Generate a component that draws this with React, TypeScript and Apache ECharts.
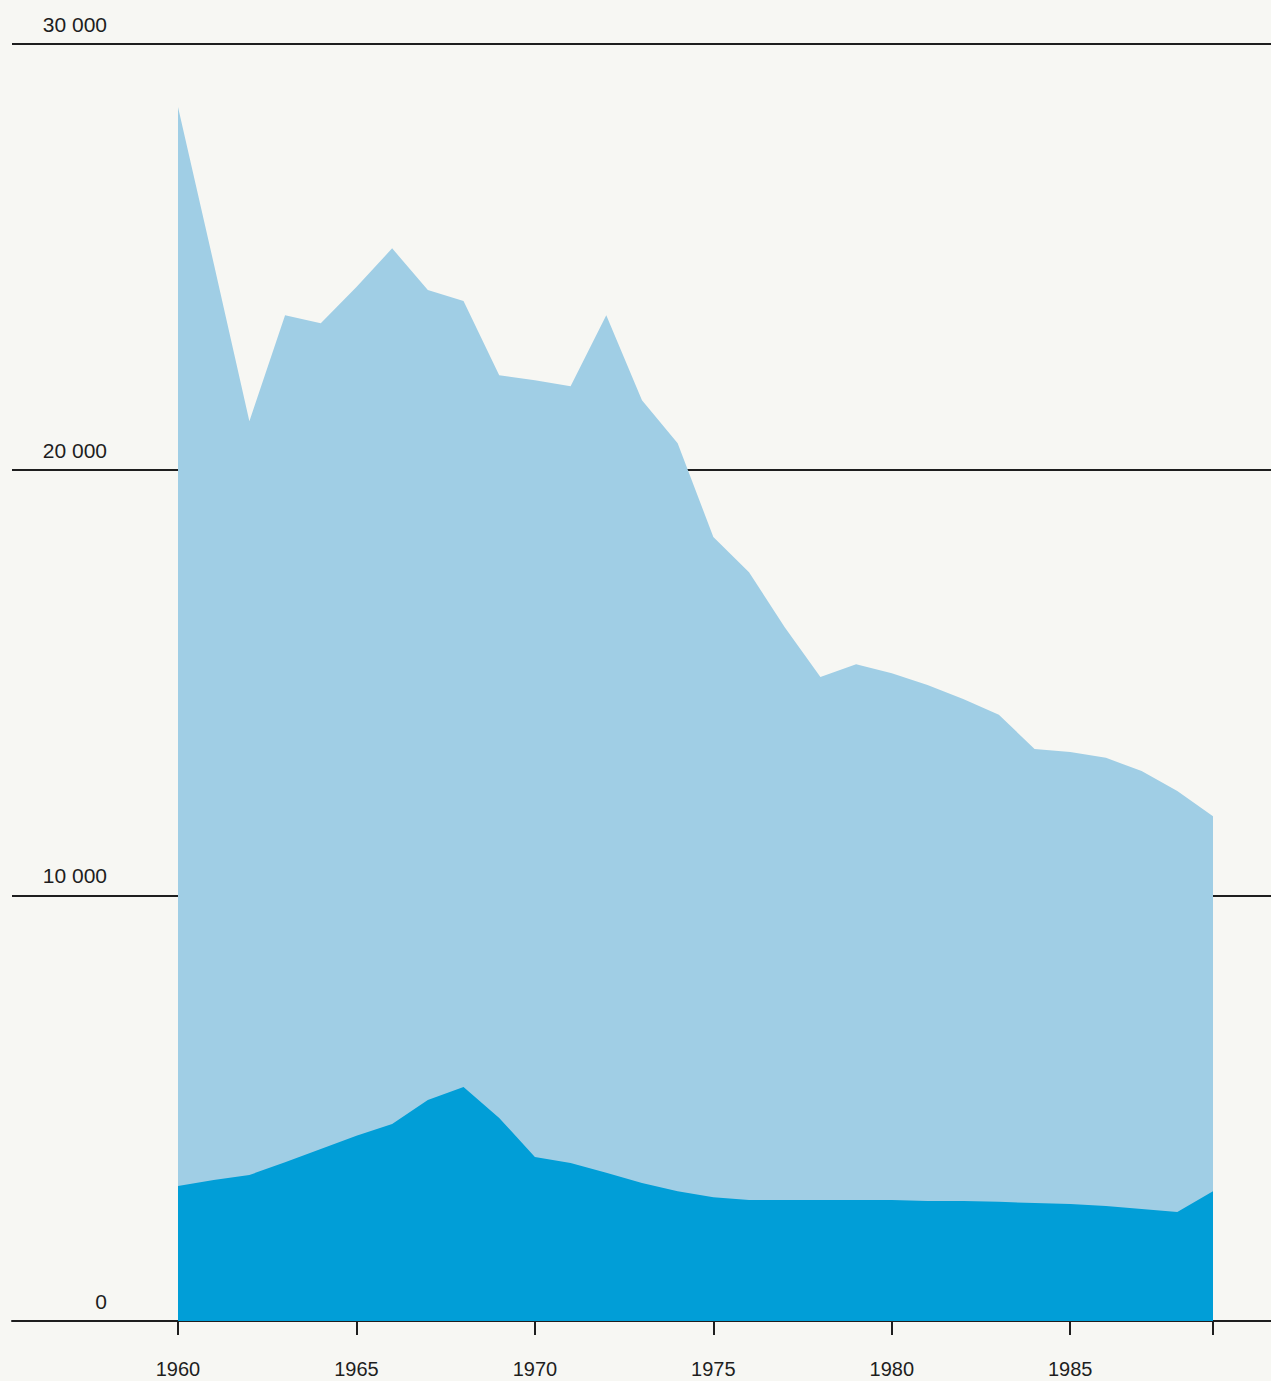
import React, { useEffect, useRef } from "react";
import * as echarts from "echarts";

const years: number[] = [
  1960, 1961, 1962, 1963, 1964, 1965, 1966, 1967, 1968, 1969,
  1970, 1971, 1972, 1973, 1974, 1975, 1976, 1977, 1978, 1979,
  1980, 1981, 1982, 1983, 1984, 1985, 1986, 1987, 1988, 1989,
];

const totalValues: number[] = [
  28520, 24850, 21140, 23630, 23440, 24290, 25200, 24220, 23960, 22220,
  22100, 21960, 23630, 21630, 20620, 18420, 17590, 16300, 15130, 15430,
  15220, 14940, 14610, 14240, 13440, 13370, 13230, 12920, 12450, 11860,
];

const lowerValues: number[] = [
  3170, 3310, 3430, 3730, 4040, 4350, 4630, 5190, 5500, 4770,
  3850, 3710, 3480, 3240, 3050, 2910, 2840, 2840, 2840, 2840,
  2840, 2820, 2820, 2800, 2770, 2750, 2700, 2630, 2560, 3050,
];

const xTickValues: number[] = [1960, 1965, 1970, 1975, 1980, 1985, 1989];
const xLabelValues: number[] = [1960, 1965, 1970, 1975, 1980, 1985];

const FONT = "'Liberation Sans', Arial, Helvetica, sans-serif";
const INK = "#1e1e1e";

function fmt(v: number): string {
  return String(v).replace(/\B(?=(\d{3})+(?!\d))/g, " ");
}

export default function App() {
  const ref = useRef<HTMLDivElement | null>(null);

  useEffect(() => {
    if (!ref.current) return;
    const chart = echarts.init(ref.current, undefined, { renderer: "svg" });
    const pxPerYear = (1213 - 178) / 29;
    const xMin = 1960 - (178 - 12) / pxPerYear;
    const xMax = 1989 + (1271 - 1213) / pxPerYear;

    chart.setOption({
      animation: false,
      backgroundColor: "#f7f7f3",
      grid: { left: 12, right: 0, top: 44, bottom: 60, containLabel: false },
      xAxis: {
        type: "value",
        min: xMin,
        max: xMax,
        axisLine: { show: true, lineStyle: { color: INK, width: 2 } },
        axisTick: {
          show: true,
          customValues: xTickValues,
          length: 14,
          lineStyle: { color: INK, width: 2 },
        },
        axisLabel: {
          customValues: xLabelValues,
          fontSize: 20,
          fontFamily: FONT,
          color: INK,
          margin: 38,
          formatter: (v: number) => String(Math.round(v)),
        },
        splitLine: { show: false },
      },
      yAxis: {
        type: "value",
        min: 0,
        max: 30000,
        interval: 10000,
        axisLine: { show: false },
        axisTick: { show: false },
        axisLabel: {
          inside: true,
          align: "right",
          verticalAlign: "bottom",
          margin: 95,
          padding: [0, 0, 9, 0],
          fontSize: 21,
          fontFamily: FONT,
          color: INK,
          formatter: (v: number) => fmt(v),
        },
        splitLine: { show: true, lineStyle: { color: INK, width: 2 } },
      },
      series: [
        {
          type: "line",
          data: years.map((y, i) => [y, totalValues[i]]),
          symbol: "none",
          lineStyle: { width: 0 },
          areaStyle: { color: "#a0cee5", opacity: 1 },
          z: 2,
        },
        {
          type: "line",
          data: years.map((y, i) => [y, lowerValues[i]]),
          symbol: "none",
          lineStyle: { width: 0 },
          areaStyle: { color: "#019ed7", opacity: 1 },
          z: 3,
        },
      ],
    });

    return () => chart.dispose();
  }, []);

  return (
    <div
      ref={ref}
      style={{
        position: "absolute",
        left: 0,
        top: 0,
        width: 1271,
        height: 1381,
        background: "#f7f7f3",
      }}
    />
  );
}
